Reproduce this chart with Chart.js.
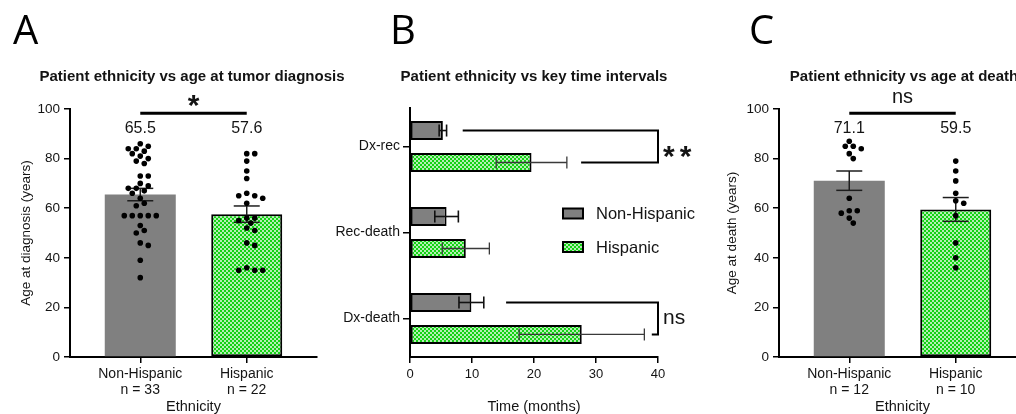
<!DOCTYPE html>
<html>
<head>
<meta charset="utf-8">
<script src="https://cdn.jsdelivr.net/npm/chart.js@4.4.1/dist/chart.umd.min.js"></script>
<style>
  html, body { margin: 0; padding: 0; background: #fff; }
  body { width: 1016px; height: 414px; overflow: hidden; position: relative;
         font-family: "Liberation Sans", Arial, sans-serif; color: #141414; }
  canvas { position: absolute; top: 0; }
  .letter { position: absolute; top: 9px; font-family: "Open Sans", sans-serif;
            font-size: 40px; line-height: 40px; color: #000; }
  .title { position: absolute; top: 68px; width: 400px; text-align: center; font-weight: bold;
           font-size: 15px; line-height: 15px; white-space: nowrap; color: #141414; }
</style>
</head>
<body>
<canvas id="chartA" width="340" height="414" style="left:0px"></canvas>
<canvas id="chartB" width="370" height="414" style="left:330px"></canvas>
<canvas id="chartC" width="340" height="414" style="left:700px"></canvas>

<div class="letter" style="left:13px">A</div>
<div class="letter" style="left:390px">B</div>
<div class="letter" style="left:749px">C</div>
<div class="title" style="left:-8px">Patient ethnicity vs age at tumor diagnosis</div>
<div class="title" style="left:334px">Patient ethnicity vs key time intervals</div>
<div class="title" style="left:704px">Patient ethnicity vs age at death</div>

<script>
// ---- data ----
const groupLabels = ['Non-Hispanic', 'Hispanic'];

// A: age at tumor diagnosis
const diagCounts = ['n = 33', 'n = 22'];
const diagMeans = [65.5, 57.6];
const diagSems = [2.5, 3.3];
const diagAgesNonHisp = [86, 85, 84, 84, 83, 82, 81, 80, 79, 78, 73, 73, 70, 69, 68, 68, 67, 66,
                         64, 62, 61, 57, 57, 57, 57, 57, 53, 51, 50, 46, 45, 39, 32];
const diagAgesHisp = [82, 82, 79, 75, 72, 66, 65, 65, 64, 62, 56, 56, 55, 54, 52, 51,
                      46, 45, 36, 35, 35, 35];
const diagSignif = '*';

// B: key time intervals (months)
const intervalLabels = ['Dx-rec', 'Rec-death', 'Dx-death'];
const intervalMeansNonHisp = [5.3, 5.9, 9.9];
const intervalSemsNonHisp = [0.6, 1.9, 2.0];
const intervalMeansHisp = [19.6, 9.0, 27.7];
const intervalSemsHisp = [5.7, 3.8, 10.1];
const intervalSignif = ['**', 'ns'];
const intervalSignifRows = [0, 2];
const intervalBracketStarts = [[8.5, 27.6], [15.5, 39.0]];

// C: age at death
const deathCounts = ['n = 12', 'n = 10'];
const deathMeans = [71.1, 59.5];
const deathSems = [3.9, 4.8];
const deathAgesNonHisp = [87, 85, 85, 84, 82, 80, 64, 59, 59, 58, 56, 54];
const deathAgesHisp = [79, 75, 71, 66, 63, 62, 57, 46, 40, 36];
const deathSignif = 'ns';

// ---- styling ----
Chart.defaults.font.family = '"Liberation Sans", Arial, sans-serif';
Chart.defaults.color = '#141414';
Chart.defaults.animation = false;

const GRAY = '#808080';
const GREEN = makeCheckPattern();
const PX_PER_GROUP = 106.5;   // horizontal px per category step in A and C
const PX_PER_YEAR = 2.48;     // vertical px per year in A and C
const SWARM_STEP = 4;
const DOT_GAP = 6;

function makeCheckPattern() {
  const c = document.createElement('canvas');
  c.width = 4; c.height = 4;
  const g = c.getContext('2d');
  g.fillStyle = '#14d214';
  g.fillRect(0, 0, 4, 4);
  g.fillStyle = '#b4efb4';
  g.fillRect(0, 0, 2, 2);
  g.fillRect(2, 2, 2, 2);
  return g.createPattern(c, 'repeat');
}

// simple deterministic beeswarm: x offsets (in category units) so dots don't overlap
function swarmOffsets(values) {
  const placed = [];
  const out = [];
  const order = values.map((v, i) => i).sort((a, b) => values[b] - values[a]);
  order.forEach(i => {
    const yPx = values[i] * PX_PER_YEAR;
    for (let k = 0; k < 60; k++) {
      const off = k === 0 ? 0 : (k % 2 ? 1 : -1) * Math.ceil(k / 2) * SWARM_STEP;
      if (placed.every(p => Math.hypot(p.x - off, p.y - yPx) >= DOT_GAP)) {
        placed.push({ x: off, y: yPx });
        out[i] = off / PX_PER_GROUP;
        break;
      }
    }
  });
  return out;
}

function seg(ctx, x0, y0, x1, y1) {
  ctx.beginPath();
  ctx.moveTo(x0, y0);
  ctx.lineTo(x1, y1);
  ctx.stroke();
}

const tickGrid = { drawOnChartArea: false, tickLength: 6, color: '#000', lineWidth: 1.5, offset: false };
const axisBorder = { color: '#000', width: 2 };

/* --- A and C: column + scatter --- */

function columnChart(id, o) {
  const points = [];
  o.ages.forEach((vals, g) => {
    const offs = swarmOffsets(vals);
    vals.forEach((v, k) => points.push({ x: g + offs[k], y: v }));
  });

  const extras = {
    id: 'columnExtras',
    afterDatasetDraw(chart, args) {
      if (args.index !== 0) return;
      const { ctx, scales: { y } } = chart;
      const bars = chart.getDatasetMeta(0).data;
      ctx.save();
      ctx.strokeStyle = '#1e1e1e';
      ctx.lineWidth = 1.5;
      o.means.forEach((m, i) => {
        const cx = bars[i].x;
        const top = y.getPixelForValue(m + o.sems[i]);
        const bot = y.getPixelForValue(m - o.sems[i]);
        seg(ctx, cx, top, cx, bot);
        seg(ctx, cx - 13, top, cx + 13, top);
        seg(ctx, cx - 13, bot, cx + 13, bot);
      });
      ctx.restore();
    },
    afterDraw(chart) {
      const { ctx, scales: { x, y } } = chart;
      ctx.save();
      ctx.fillStyle = '#141414';
      ctx.textAlign = 'center';
      ctx.textBaseline = 'middle';
      ctx.font = '16px "Liberation Sans", Arial, sans-serif';
      o.means.forEach((m, i) => ctx.fillText(m.toFixed(1), x.getPixelForValue(i), y.getPixelForValue(92.3)));
      // significance line between the two groups
      const ly = y.getPixelForValue(98.3);
      const x0 = x.getPixelForValue(0), x1 = x.getPixelForValue(1);
      ctx.strokeStyle = '#000';
      ctx.lineWidth = 3;
      seg(ctx, x0, ly, x1, ly);
      ctx.textBaseline = 'alphabetic';
      if (o.signif === 'ns') {
        ctx.font = '20px "Liberation Sans", Arial, sans-serif';
        ctx.fillText(o.signif, (x0 + x1) / 2, ly - 10);
      } else {
        ctx.font = 'bold 30px "Liberation Sans", Arial, sans-serif';
        ctx.fillText(o.signif, (x0 + x1) / 2, ly + 2);
      }
      ctx.restore();
    }
  };

  return new Chart(document.getElementById(id), {
    type: 'bar',
    data: {
      datasets: [
        {
          type: 'bar',
          data: o.means.map((m, i) => ({ x: i, y: m })),
          backgroundColor: [GRAY, GREEN],
          borderColor: ['#8c8c8c', '#000'],
          borderWidth: [0, 2],
          borderSkipped: false,
          categoryPercentage: 1,
          barPercentage: 0.667,
          order: 1
        },
        {
          type: 'scatter',
          data: points,
          pointRadius: 2.8,
          pointBackgroundColor: '#000',
          pointBorderWidth: 0,
          order: 0
        }
      ]
    },
    options: {
      responsive: false,
      layout: { padding: { top: 109, right: o.padRight, left: 0, bottom: 0 } },
      plugins: { legend: { display: false }, tooltip: { enabled: false } },
      scales: {
        x: {
          type: 'linear', min: -0.66, max: 1.66, offset: false,
          afterBuildTicks: s => { s.ticks = groupLabels.map((_, i) => ({ value: i })); },
          afterFit: s => { s.height = 57; },
          ticks: {
            callback: v => [groupLabels[v], o.counts[v]],
            font: { size: 14, lineHeight: 1.15 }, padding: 3,
            maxRotation: 0, autoSkip: false
          },
          grid: tickGrid,
          border: axisBorder,
          title: { display: true, text: 'Ethnicity', font: { size: 14.5, lineHeight: 1 }, padding: 0 }
        },
        y: {
          min: 0, max: 100,
          afterFit: s => { s.width = o.axisWidth; },
          ticks: { stepSize: 20, font: { size: 13.5 }, padding: 4 },
          grid: tickGrid,
          border: axisBorder,
          title: { display: true, text: o.yTitle, font: { size: 13.5 }, padding: { top: o.titlePad, bottom: 0 } }
        }
      }
    },
    plugins: [extras]
  });
}

columnChart('chartA', {
  means: diagMeans, sems: diagSems, counts: diagCounts,
  ages: [diagAgesNonHisp, diagAgesHisp], signif: diagSignif,
  yTitle: 'Age at diagnosis (years)', axisWidth: 70, titlePad: 18, padRight: 23
});

columnChart('chartC', {
  means: deathMeans, sems: deathSems, counts: deathCounts,
  ages: [deathAgesNonHisp, deathAgesHisp], signif: deathSignif,
  yTitle: 'Age at death (years)', axisWidth: 79, titlePad: 24, padRight: 14
});

/* --- B: horizontal grouped bars --- */

const intervalSeries = [
  { means: intervalMeansNonHisp, sems: intervalSemsNonHisp, color: '#111', width: 1.6 },
  { means: intervalMeansHisp, sems: intervalSemsHisp, color: '#3a3a3a', width: 1.3 }
];

const intervalExtras = {
  id: 'intervalExtras',
  afterDatasetsDraw(chart) {
    const { ctx, scales: { x } } = chart;
    ctx.save();
    // error bars
    intervalSeries.forEach((s, d) => {
      const meta = chart.getDatasetMeta(d);
      ctx.strokeStyle = s.color;
      ctx.lineWidth = s.width;
      s.means.forEach((m, i) => {
        const cy = meta.data[i].y;
        const x0 = x.getPixelForValue(m - s.sems[i]);
        const x1 = x.getPixelForValue(m + s.sems[i]);
        seg(ctx, x0, cy, x1, cy);
        seg(ctx, x0, cy - 6, x0, cy + 6);
        seg(ctx, x1, cy - 6, x1, cy + 6);
      });
    });
    // brackets
    const xEnd = x.getPixelForValue(x.max);
    ctx.strokeStyle = '#000';
    ctx.lineWidth = 2;
    ctx.fillStyle = '#141414';
    intervalSignifRows.forEach((row, k) => {
      const yTop = chart.getDatasetMeta(0).data[row].y;
      const yBot = chart.getDatasetMeta(1).data[row].y;
      const xa = x.getPixelForValue(intervalBracketStarts[k][0]);
      const xb = x.getPixelForValue(intervalBracketStarts[k][1]);
      ctx.beginPath();
      ctx.moveTo(xa, yTop);
      ctx.lineTo(xEnd, yTop);
      ctx.lineTo(xEnd, yBot);
      ctx.lineTo(xb, yBot);
      ctx.stroke();
      const mid = (yTop + yBot) / 2;
      ctx.textAlign = 'left';
      ctx.textBaseline = 'alphabetic';
      if (intervalSignif[k] === 'ns') {
        ctx.font = '21px "Liberation Sans", Arial, sans-serif';
        ctx.fillText(intervalSignif[k], xEnd + 5, mid + 5.5);
      } else {
        ctx.font = 'bold 30px "Liberation Sans", Arial, sans-serif';
        ctx.letterSpacing = '5px';
        ctx.fillText(intervalSignif[k], xEnd + 5, mid + 19);
        ctx.letterSpacing = '0px';
      }
    });
    // legend
    ctx.font = '16.5px "Liberation Sans", Arial, sans-serif';
    ctx.textBaseline = 'middle';
    chart.data.datasets.forEach((ds, i) => {
      const ly = 213.5 + i * 33.5;
      ctx.fillStyle = ds.backgroundColor;
      ctx.fillRect(233, ly - 5, 20, 10);
      ctx.lineWidth = 2;
      ctx.strokeRect(233, ly - 5, 20, 10);
      ctx.fillStyle = '#141414';
      ctx.fillText(ds.label, 266, ly + 1);
    });
    ctx.restore();
  }
};

new Chart(document.getElementById('chartB'), {
  type: 'bar',
  data: {
    datasets: [
      {
        label: groupLabels[0],
        data: intervalMeansNonHisp.map((m, i) => ({ x: m, y: i })),
        backgroundColor: GRAY, borderColor: '#000', borderWidth: 2, borderSkipped: false,
        categoryPercentage: 0.744, barPercentage: 0.594
      },
      {
        label: groupLabels[1],
        data: intervalMeansHisp.map((m, i) => ({ x: m, y: i })),
        backgroundColor: GREEN, borderColor: '#000', borderWidth: 2, borderSkipped: false,
        categoryPercentage: 0.744, barPercentage: 0.594
      }
    ]
  },
  options: {
    indexAxis: 'y',
    responsive: false,
    layout: { padding: { top: 108, right: 42, left: 0, bottom: 0 } },
    plugins: { legend: { display: false }, tooltip: { enabled: false } },
    scales: {
      x: {
        type: 'linear', min: 0, max: 40,
        afterFit: s => { s.height = 57; },
        ticks: { stepSize: 10, font: { size: 13 }, padding: 4 },
        grid: tickGrid,
        border: axisBorder,
        title: { display: true, text: 'Time (months)', font: { size: 14.5, lineHeight: 1 }, padding: 0 }
      },
      y: {
        type: 'linear', reverse: true, min: -0.448, max: 2.448, offset: false,
        afterBuildTicks: s => { s.ticks = intervalLabels.map((_, i) => ({ value: i })); },
        afterFit: s => { s.width = 80; },
        ticks: { callback: v => intervalLabels[v], font: { size: 14 }, padding: 3, autoSkip: false },
        grid: { ...tickGrid, tickLength: 7 },
        border: axisBorder
      }
    }
  },
  plugins: [intervalExtras]
});
</script>
</body>
</html>
